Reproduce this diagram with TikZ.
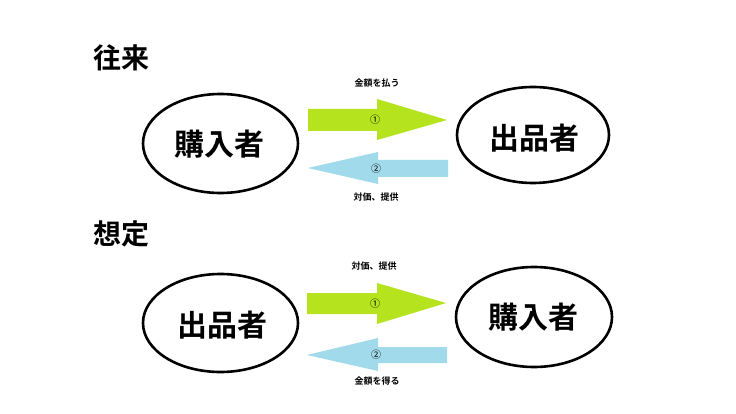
\documentclass[tikz,border=0pt]{standalone}
\usepackage{fontspec}
\setmainfont{Noto Sans CJK JP}[BoldFont={Noto Sans CJK JP Bold}]
\usetikzlibrary{shapes.geometric}
\definecolor{arrgreen}{RGB}{181,227,30}
\definecolor{arrblue}{RGB}{160,218,235}
\tikzset{
  party/.style={draw=black, line width=2.6pt, ellipse, inner sep=0pt},
  partytext/.style={font=\fontsize{30}{30}\selectfont\bfseries, inner sep=0pt},
  titletext/.style={font=\fontsize{28}{28}\selectfont\bfseries, inner sep=0pt},
  smalllabel/.style={font=\fontsize{9}{9}\selectfont\bfseries, inner sep=0pt},
  numlabel/.style={font=\fontsize{10}{10}\selectfont, inner sep=0pt},
}
\begin{document}
\begin{tikzpicture}[x=1pt,y=-1pt]
\useasboundingbox[fill=white] (0,0) rectangle (736,414);

% ---------- 往来 ----------
\node[titletext] (t1) at (121,58) {往来};

\node[party, minimum width=155pt, minimum height=99pt] (buyer1) at (220.5,143.5) {};
\node[partytext] (buyer1t) at (219,144) {購入者};
\node[party, minimum width=152pt, minimum height=96pt] (seller1) at (533,135) {};
\node[partytext] (seller1t) at (534,138) {出品者};

\fill[arrgreen] (308,109) -- (377,109) -- (377,99) -- (447,120) -- (377,140) -- (377,131) -- (308,131) -- cycle;
\fill[arrblue] (308,168) -- (378,152) -- (378,160) -- (448,160) -- (448,177) -- (378,177) -- (378,184) -- cycle;

\node[smalllabel] (l1a) at (377,83) {金額を払う};
\node[numlabel] (n1a) at (375,120) {①};
\node[numlabel] (n1b) at (376,169) {②};
\node[smalllabel] (l1b) at (376,197) {対価、提供};

% ---------- 想定 ----------
\node[titletext] (t2) at (121,234) {想定};

\node[party, minimum width=155pt, minimum height=98pt] (seller2) at (220.5,323) {};
\node[partytext] (seller2t) at (222,325) {出品者};
\node[party, minimum width=156pt, minimum height=100pt] (buyer2) at (534,317) {};
\node[partytext] (buyer2t) at (533,317) {購入者};

\fill[arrgreen] (307,293) -- (377,293) -- (377,283) -- (446,303) -- (377,324) -- (377,314) -- (307,314) -- cycle;
\fill[arrblue] (307,355) -- (378,338) -- (378,347) -- (447,347) -- (447,363) -- (378,363) -- (378,371) -- cycle;

\node[smalllabel] (l2a) at (374,266) {対価、提供};
\node[numlabel] (n2a) at (375,304) {①};
\node[numlabel] (n2b) at (376,355) {②};
\node[smalllabel] (l2b) at (377,381) {金額を得る};
\end{tikzpicture}
\end{document}
